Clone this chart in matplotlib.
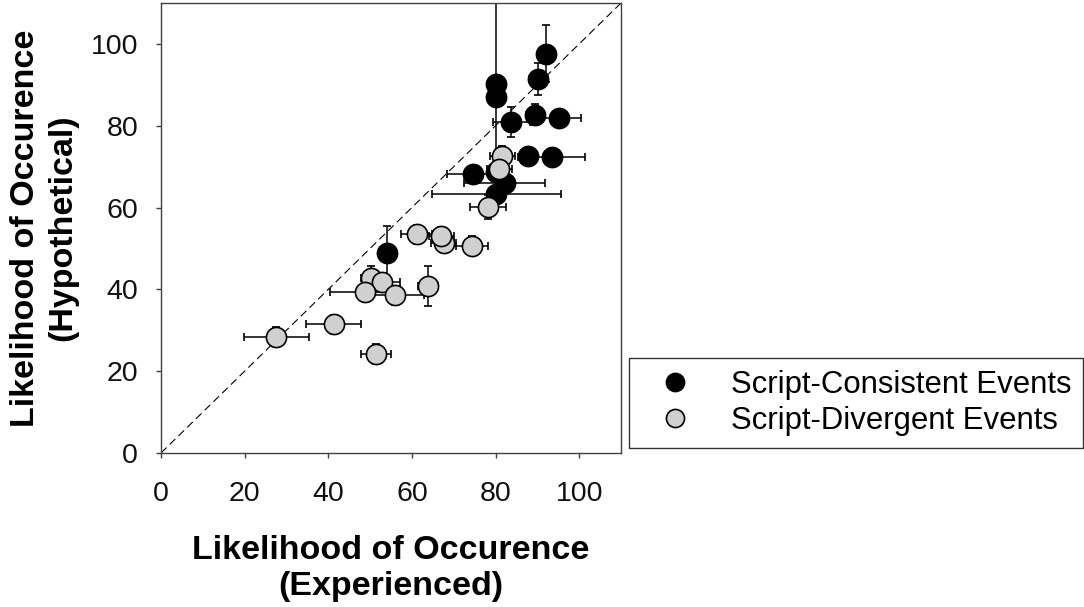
import matplotlib
matplotlib.use("Agg")
import matplotlib.pyplot as plt

plt.rcParams['font.family'] = ['Liberation Sans', 'DejaVu Sans']

# Script-consistent events (black)
cons_x = [92.0, 90.2, 80.0, 80.0, 83.8, 89.4, 95.1, 87.8, 93.4, 74.5, 80.0, 82.2, 80.2, 54.0]
cons_y = [97.6, 91.4, 90.2, 87.1, 81.0, 82.7, 82.0, 72.6, 72.4, 68.2, 68.8, 66.1, 63.3, 48.9]
cons_xerr = [1.5, 2.3, 0.5, 0.5, 4.4, 2.0, 5.4, 2.0, 8.0, 6.2, 1.0, 9.7, 15.5, 0.5]
cons_yerr = [7.0, 4.0, 1.0, 24.0, 3.7, 2.6, 1.0, 1.0, 1.0, 1.0, 1.0, 1.0, 1.0, 6.5]

# Script-divergent events (grey)
div_x = [81.6, 80.9, 78.2, 67.6, 74.4, 67.0, 61.1, 63.8, 50.3, 52.9, 48.7, 56.0, 41.3, 27.6, 51.5]
div_y = [72.6, 69.5, 60.1, 51.3, 50.7, 53.1, 53.5, 40.8, 42.7, 41.9, 39.4, 38.6, 31.5, 28.4, 24.2]
div_xerr = [3.0, 3.0, 4.2, 3.0, 3.9, 3.0, 3.6, 2.4, 2.5, 4.2, 8.4, 7.0, 6.6, 7.7, 3.6]
div_yerr = [2.5, 1.5, 2.9, 2.0, 2.3, 2.2, 2.3, 4.8, 3.0, 2.0, 2.3, 2.3, 2.3, 2.3, 2.5]

ticks = [0, 20, 40, 60, 80, 100]

fig = plt.figure(figsize=(10.84, 6.07), dpi=100)
ax = fig.add_axes([161 / 1084, 154 / 607, 460 / 1084, 450 / 607])

ax.plot([0, 110], [0, 110], color='black', lw=0.8, dashes=(7, 4), zorder=1)

err_kw = dict(fmt='o', ecolor='black', elinewidth=1.1, capsize=3.2, capthick=1.1,
              markersize=14.5, markeredgecolor='black', markeredgewidth=1.2)
ax.errorbar(cons_x, cons_y, xerr=cons_xerr, yerr=cons_yerr, color='black',
            markerfacecolor='black', label='Script-Consistent Events', zorder=2, **err_kw)
ax.errorbar(div_x, div_y, xerr=div_xerr, yerr=div_yerr, color='black',
            markerfacecolor='#d0d0d0', label='Script-Divergent Events', zorder=3, **err_kw)

ax.set_xlim(0, 110)
ax.set_ylim(0, 110)
ax.set_xticks(ticks)
ax.set_yticks(ticks)
for s in ax.spines.values():
    s.set_color('#404040')
    s.set_linewidth(1.0)
ax.tick_params(axis='both', direction='out', length=3.5, width=1.0, color='#404040',
               labelsize=20.5, labelcolor='#111111')
ax.tick_params(axis='x', pad=17)
ax.tick_params(axis='y', pad=13)

ax.set_xlabel("Likelihood of Occurence\n(Experienced)", fontsize=24.5, fontweight='bold',
              labelpad=20, linespacing=1.2)
ax.set_ylabel("Likelihood of Occurence\n(Hypothetical)", fontsize=24.5, fontweight='bold',
              labelpad=9, linespacing=1.25)

handles, labels = ax.get_legend_handles_labels()
handles = [h[0] for h in handles]
leg = fig.legend(handles, labels, loc='center',
                 bbox_to_anchor=(631 / 1084, 159 / 607, 450 / 1084, 90 / 607),
                 fontsize=22.4, frameon=True, fancybox=False, borderpad=0.38,
                 handlelength=2.18, handletextpad=0.71, labelspacing=0.2,
                 markerscale=0.9)
leg.get_frame().set_edgecolor('black')
leg.get_frame().set_linewidth(1.0)

fig.savefig("out.png", dpi=100)
